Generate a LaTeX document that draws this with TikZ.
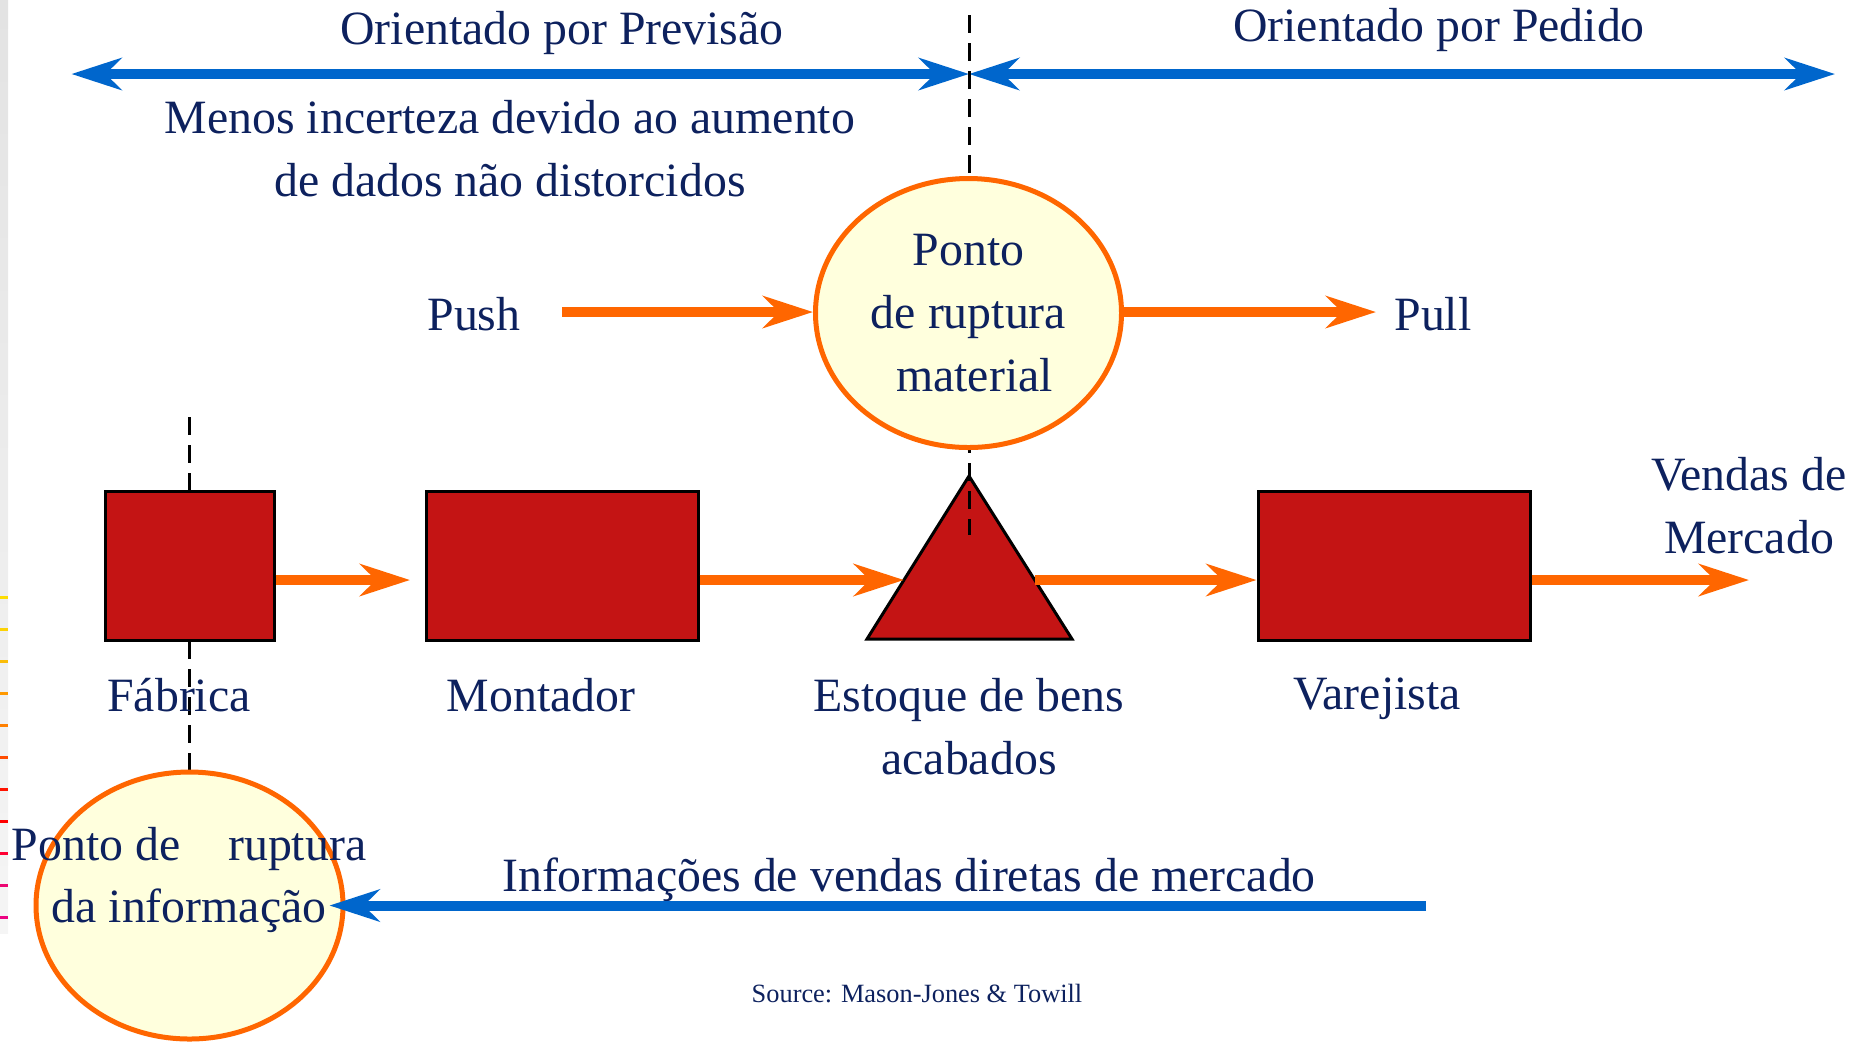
\documentclass[tikz,border=0pt]{standalone}
\usepackage{fontspec}
\setmainfont{Liberation Serif}
\usetikzlibrary{arrows.meta, positioning, shapes.geometric, calc}
\definecolor{navy}{RGB}{13,33,94}
\definecolor{flowor}{RGB}{255,102,0}
\definecolor{infoblue}{RGB}{0,102,204}
\definecolor{boxred}{RGB}{196,20,20}
\definecolor{paleyel}{RGB}{255,255,221}

\begin{document}
\begin{tikzpicture}[>={Stealth[length=0.5cm,width=0.32cm,inset=0.16cm]},every node/.style={text=navy,font=\fontsize{13.6}{17.9}\selectfont,align=center},
    box/.style={rectangle,draw=black,line width=0.03cm,fill=boxred,minimum height=1.49cm,inner sep=0pt},
    brk/.style={ellipse,draw=flowor,line width=0.05cm,fill=paleyel,inner sep=0pt},
    flow/.style={->,flowor,line width=0.1cm},info/.style={infoblue,line width=0.1cm},
    sep/.style={black,line width=0.03cm,dash pattern=on 0.18cm off 0.1cm}]
    \useasboundingbox (0,0) rectangle (18.68,-10.41);
    \shade[top color=black!11,bottom color=black!4] (0,0) rectangle (0.08,-9.33);
    \foreach \k/\c in {0/yellow!90!red,1/yellow!85!red,2/yellow!75!red,3/orange!80!yellow,4/orange,5/orange!60!red,6/red!85!orange,7/red,8/red!80!magenta,9/magenta!75!red,10/magenta!90!red}
      \draw[\c,line width=0.03cm] (0,{-5.97-0.32*\k}) -- ++(0.08,0);

    \node (prev) at (5.62,-0.325) {Orientado por Previsão};
    \node (ped) at (14.39,-0.295) {Orientado por Pedido};
    \coordinate (fcL) at (0.715,-0.74);
    \coordinate (split) at (9.69,-0.74);
    \coordinate (fcR) at (18.35,-0.74);
    \draw[info,<->] (fcL) -- (split);
    \draw[info,<->] (split) -- (fcR);
    \node (menos) at (5.10,-1.49) {Menos incerteza devido ao aumento\\de dados não distorcidos};

    \coordinate (fabtop) at (1.895,-4.17);
    \coordinate (fabbot) at (1.895,-7.72);
    \draw[sep] (fabtop) -- (fabbot);
    \node (fab) [box,minimum width=1.69cm] at (1.895,-5.655) {};
    \node (mont) [box,minimum width=2.72cm] at (5.62,-5.655) {};
    \node (varej) [box,minimum width=2.72cm] at (13.94,-5.655) {};
    \coordinate (triapex) at (9.69,-4.76);
    \coordinate (tribl) at (8.67,-6.39);
    \coordinate (tribr) at (10.72,-6.39);
    \draw[fill=boxred,line width=0.03cm] (triapex) -- (tribl) -- (tribr) -- cycle;
    \coordinate (triin) at ($(tribl)!0.362!(triapex)$);
    \coordinate (triout) at ($(tribr)!0.362!(triapex)$);

    \coordinate (splittop) at (9.69,-0.15);
    \coordinate (splitbot) at (9.69,-5.35);
    \draw[sep] (splittop) -- (splitbot);
    \node (ptmat) [brk,minimum width=3.06cm,minimum height=2.69cm] at (9.685,-3.13) {Ponto\\de ruptura\\\hspace*{0.25em}material};
    \node (push) at (4.74,-3.14) {Push};
    \node (pull) at (14.33,-3.14) {Pull};
    \coordinate (pushS) at (5.62,-3.12);
    \coordinate (pullE) at (13.76,-3.12);
    \draw[flow] (pushS) -- (ptmat.west |- pushS);
    \draw[flow] (ptmat.east |- pullE) -- (pullE);

    \coordinate (fabout) at (4.10,-5.80);
    \coordinate (mktout) at (17.49,-5.80);
    \draw[flow] (fab.east |- fabout) -- (fabout);
    \draw[flow] (mont.east |- triin) -- (triin);
    \draw[flow] (triout) -- (varej.west |- triout);
    \draw[flow] (varej.east |- mktout) -- (mktout);

    \node (fabtxt) at (1.79,-6.95) {Fábrica};
    \node (monttxt) at (5.41,-6.95) {Montador};
    \node (esttxt) at (9.69,-7.265) {Estoque de bens\\acabados};
    \node (varejtxt) at (13.77,-6.99) {Varejista};
    \node (mkt) at (17.49,-5.055) {Vendas de\\Mercado};

    \node (ptinf) [brk,minimum width=3.07cm,minimum height=2.67cm] at (1.895,-9.055) {};
    \node (ptinftxt) at (1.89,-8.80) {Ponto de\quad ruptura\\da informação};
    \node (infotxt) at (9.09,-8.795) {Informações de vendas diretas de mercado};
    \coordinate (infS) at (14.26,-9.055);
    \draw[info,->] (infS) -- ([xshift=-0.16cm]ptinf.east);

    \node (src) [font=\fontsize{7.5}{9}\selectfont] at (9.17,-9.94) {Source: Mason-Jones \& Towill};
  \end{tikzpicture}
\end{document}
